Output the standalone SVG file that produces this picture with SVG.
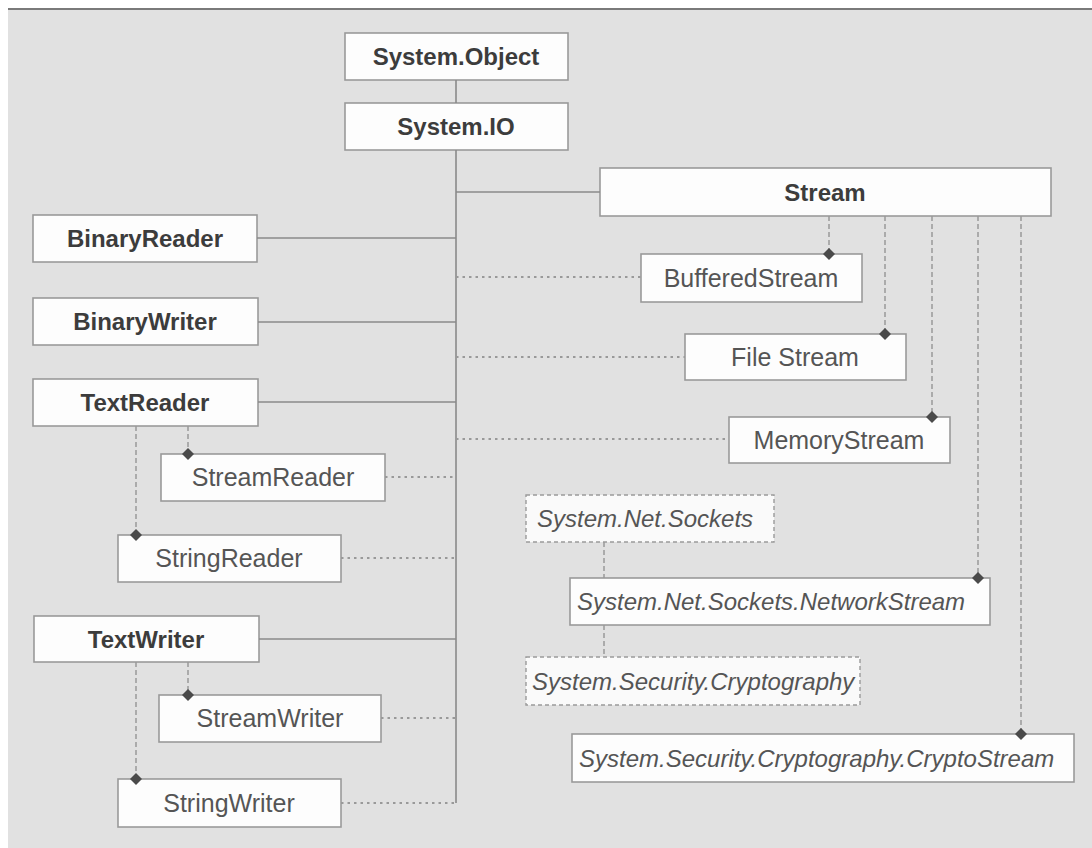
<svg xmlns="http://www.w3.org/2000/svg" width="1092" height="848" viewBox="0 0 1092 848">
<style>
.bg{fill:#e1e1e1}
.box{fill:#fdfdfd;stroke:#9a9a9a;stroke-width:1.6}
.dbox{fill:#fafafa;stroke:#9a9a9a;stroke-width:1.4;stroke-dasharray:4 3}
.b{font-family:"Liberation Sans",Arial,sans-serif;font-weight:bold;font-size:24px;fill:#3c3c3c;text-anchor:middle}
.r{font-family:"Liberation Sans",Arial,sans-serif;font-size:25px;fill:#555;text-anchor:middle}
.i{font-family:"Liberation Sans",Arial,sans-serif;font-style:italic;font-size:24px;fill:#555}
.solid{stroke:#8a8a8a;stroke-width:1.6;fill:none}
.dot{stroke:#999;stroke-width:1.8;fill:none;stroke-dasharray:2.5 4}
.dash{stroke:#999;stroke-width:1.5;fill:none;stroke-dasharray:5 3}
</style>
<defs>
<marker id="dia" viewBox="-7 -7 14 14" markerWidth="14" markerHeight="14" refX="0" refY="0" markerUnits="userSpaceOnUse" orient="auto">
<path d="M-6 0L0 -6L6 0L0 6Z" fill="#4a4a4a"/>
</marker>
</defs>
<rect x="0" y="0" width="1092" height="848" fill="#ffffff"/>
<rect class="bg" x="8" y="9" width="1084" height="839"/>
<line x1="8" y1="9" x2="1092" y2="9" stroke="#7a7a7a" stroke-width="2"/>

<g id="system-object"><rect class="box" x="345" y="33" width="223" height="47"/><text class="b" x="456" y="65">System.Object</text></g>
<g id="system-io"><rect class="box" x="345" y="103" width="223" height="47"/><text class="b" x="456" y="135">System.IO</text></g>
<g id="stream"><rect class="box" x="600" y="168" width="451" height="48"/><text class="b" x="825" y="201">Stream</text></g>
<g id="binaryreader"><rect class="box" x="33" y="215" width="224" height="47"/><text class="b" x="145" y="247">BinaryReader</text></g>
<g id="binarywriter"><rect class="box" x="33" y="298" width="225" height="47"/><text class="b" x="145" y="330">BinaryWriter</text></g>
<g id="textreader"><rect class="box" x="33" y="379" width="225" height="47"/><text class="b" x="145" y="411">TextReader</text></g>
<g id="streamreader"><rect class="box" x="161" y="454" width="224" height="47"/><text class="r" x="273" y="486">StreamReader</text></g>
<g id="stringreader"><rect class="box" x="118" y="535" width="223" height="47"/><text class="r" x="229" y="567">StringReader</text></g>
<g id="textwriter"><rect class="box" x="34" y="616" width="225" height="46"/><text class="b" x="146" y="648">TextWriter</text></g>
<g id="streamwriter"><rect class="box" x="159" y="695" width="222" height="47"/><text class="r" x="270" y="727">StreamWriter</text></g>
<g id="stringwriter"><rect class="box" x="118" y="779" width="223" height="48"/><text class="r" x="229" y="812">StringWriter</text></g>
<g id="bufferedstream"><rect class="box" x="641" y="254" width="221" height="48"/><text class="r" x="751" y="287">BufferedStream</text></g>
<g id="filestream"><rect class="box" x="685" y="334" width="221" height="46"/><text class="r" x="795" y="366">File Stream</text></g>
<g id="memorystream"><rect class="box" x="729" y="417" width="221" height="46"/><text class="r" x="839" y="449">MemoryStream</text></g>
<g id="system-net-sockets"><rect class="dbox" x="526" y="495" width="248" height="47"/><text class="i" x="537" y="527">System.Net.Sockets</text></g>
<g id="networkstream"><rect class="box" x="570" y="578" width="420" height="47"/><text class="i" x="577" y="610">System.Net.Sockets.NetworkStream</text></g>
<g id="system-security-cryptography"><rect class="dbox" x="526" y="657" width="334" height="48"/><text class="i" x="532" y="690">System.Security.Cryptography</text></g>
<g id="cryptostream"><rect class="box" x="572" y="734" width="502" height="48"/><text class="i" x="579" y="767">System.Security.Cryptography.CryptoStream</text></g>

<g id="connectors">
<line class="solid" x1="456" y1="80" x2="456" y2="103"/>
<line class="solid" x1="456" y1="150" x2="456" y2="803"/>
<line class="solid" x1="456" y1="192" x2="600" y2="192"/>
<line class="solid" x1="257" y1="238" x2="456" y2="238"/>
<line class="solid" x1="258" y1="322" x2="456" y2="322"/>
<line class="solid" x1="258" y1="402" x2="456" y2="402"/>
<line class="solid" x1="259" y1="639" x2="456" y2="639"/>
<line class="dot" x1="385" y1="477" x2="456" y2="477"/>
<line class="dot" x1="341" y1="558" x2="456" y2="558"/>
<line class="dot" x1="381" y1="718" x2="456" y2="718"/>
<line class="dot" x1="341" y1="803" x2="456" y2="803"/>
<line class="dot" x1="456" y1="277" x2="641" y2="277"/>
<line class="dot" x1="456" y1="357" x2="685" y2="357"/>
<line class="dot" x1="456" y1="439" x2="729" y2="439"/>
<line class="dash" x1="188" y1="426" x2="188" y2="454" marker-end="url(#dia)"/>
<line class="dash" x1="136" y1="426" x2="136" y2="535" marker-end="url(#dia)"/>
<line class="dash" x1="188" y1="662" x2="188" y2="695" marker-end="url(#dia)"/>
<line class="dash" x1="136" y1="662" x2="136" y2="779" marker-end="url(#dia)"/>
<line class="dash" x1="829" y1="216" x2="829" y2="254" marker-end="url(#dia)"/>
<line class="dash" x1="885" y1="216" x2="885" y2="334" marker-end="url(#dia)"/>
<line class="dash" x1="932" y1="216" x2="932" y2="417" marker-end="url(#dia)"/>
<line class="dash" x1="978" y1="216" x2="978" y2="578" marker-end="url(#dia)"/>
<line class="dash" x1="1021" y1="216" x2="1021" y2="734" marker-end="url(#dia)"/>
<line class="dash" x1="604" y1="542" x2="604" y2="578"/>
<line class="dash" x1="604" y1="625" x2="604" y2="657"/>
</g>
</svg>
